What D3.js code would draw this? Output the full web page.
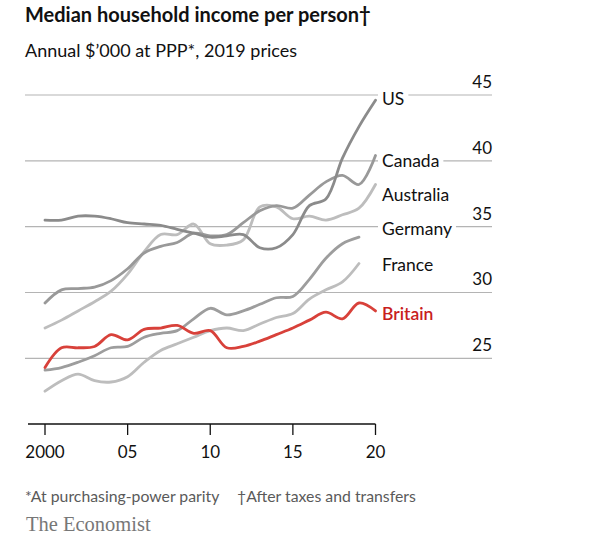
<!DOCTYPE html>
<html>
<head>
<meta charset="utf-8">
<script src="https://cdn.jsdelivr.net/npm/d3@7"></script>
<style>
  body { margin: 0; background: #fff; }
  text { font-family: Lato, "Open Sans", sans-serif; }
</style>
</head>
<body>
<svg id="chart" width="600" height="547"></svg>
<script>
// yearly values, $'000 at PPP
const years = d3.range(2000, 2021);

const us        = [35.5, 35.5, 35.8, 35.8, 35.6, 35.3, 35.2, 35.1, 34.8, 34.5, 34.2, 34.3, 34.4, 33.4, 33.4, 34.4, 36.6, 37.1, 40.2, 42.6, 44.6];
const canada    = [29.2, 30.2, 30.3, 30.4, 30.9, 31.8, 33.0, 33.5, 33.8, 34.5, 34.3, 34.4, 35.3, 36.2, 36.6, 36.4, 37.4, 38.4, 38.9, 38.2, 40.4];
const australia = [27.3, 27.9, 28.6, 29.3, 30.1, 31.4, 33.1, 34.4, 34.4, 35.2, 33.7, 33.6, 34.0, 36.5, 36.5, 35.6, 35.8, 35.5, 35.9, 36.4, 38.2];
const germany   = [24.1, 24.3, 24.7, 25.2, 25.8, 25.9, 26.6, 26.9, 27.1, 28.0, 28.8, 28.3, 28.6, 29.1, 29.6, 29.7, 31.0, 32.6, 33.7, 34.2];
const france    = [22.5, 23.3, 23.8, 23.3, 23.2, 23.6, 24.7, 25.6, 26.1, 26.6, 27.1, 27.3, 27.1, 27.6, 28.1, 28.4, 29.5, 30.2, 30.8, 32.2];
const britain   = [24.3, 25.8, 25.8, 25.9, 26.8, 26.4, 27.2, 27.3, 27.5, 26.9, 27.1, 25.8, 25.9, 26.3, 26.8, 27.3, 27.9, 28.5, 28.0, 29.2, 28.6];

const seriesNames  = ['France', 'Australia', 'Germany', 'Canada', 'US', 'Britain'];
const seriesValues = [france, australia, germany, canada, us, britain];
// where each name sits on the value scale
const labelAt      = [32.1, 37.4, 34.8, 40.0, 44.7, 28.4];

const yTicks = [25, 30, 35, 40, 45];
const xTicks = [2000, 2005, 2010, 2015, 2020];
const xTickLabels = ['2000', '05', '10', '15', '20'];

const colour = {
    US: '#8b8b8b', Canada: '#999999', Germany: '#9d9d9d',
    Australia: '#bdbdbd', France: '#bdbdbd', Britain: '#d8413a'
};

const svg = d3.select('#chart');

const x = d3.scaleLinear().domain([2000, 2020]).range([45, 375.5]);
const y = d3.scaleLinear().domain([25, 45]).range([358.3, 95]);

// titles
svg.append('text').attr('x', 25).attr('y', 22)
    .attr('font-size', 20).attr('font-weight', 700).attr('fill', '#111')
    .text('Median household income per person\u2020');
svg.append('text').attr('x', 25).attr('y', 57)
    .attr('font-size', 18).attr('fill', '#111')
    .text('Annual $\u2019000 at PPP*, 2019 prices');

// gridlines + value labels on the right
const grid = svg.append('g');
grid.selectAll('line').data(yTicks).enter().append('line')
    .attr('x1', 25).attr('x2', 492)
    .attr('y1', d => y(d)).attr('y2', d => y(d))
    .attr('stroke', '#b4b4b4').attr('stroke-width', 1.2);
grid.selectAll('text').data(yTicks).enter().append('text')
    .attr('x', 492).attr('y', d => y(d) - 7)
    .attr('text-anchor', 'end').attr('font-size', 17).attr('fill', '#111')
    .text(d => d);

// x axis
const xAxis = svg.append('g');
xAxis.append('line')
    .attr('x1', 28).attr('x2', x(2020)).attr('y1', 424).attr('y2', 424)
    .attr('stroke', '#111').attr('stroke-width', 1.3);
xAxis.selectAll('line.tick').data(xTicks).enter().append('line')
    .attr('class', 'tick')
    .attr('x1', d => x(d)).attr('x2', d => x(d)).attr('y1', 424).attr('y2', 435)
    .attr('stroke', '#111').attr('stroke-width', 1.3);
xAxis.selectAll('text').data(xTicks).enter().append('text')
    .attr('x', d => x(d)).attr('y', 458).attr('text-anchor', 'middle')
    .attr('font-size', 17).attr('fill', '#111')
    .text((d, i) => xTickLabels[i]);

// lines
const line = d3.line()
    .x((d, i) => x(years[i]))
    .y(d => y(d))
    .curve(d3.curveCatmullRom.alpha(0.5));

svg.append('g').selectAll('path').data(seriesValues).enter().append('path')
    .attr('d', d => line(d))
    .attr('fill', 'none')
    .attr('stroke', (d, i) => colour[seriesNames[i]])
    .attr('stroke-width', 2.8)
    .attr('stroke-linecap', 'round').attr('stroke-linejoin', 'round');

// series names, with a white patch so gridlines break around them
const labels = svg.append('g').selectAll('g').data(seriesNames).enter().append('g');
labels.append('rect').attr('fill', '#fff');
labels.append('text')
    .attr('x', 382).attr('y', (d, i) => y(labelAt[i]))
    .attr('dy', '0.35em').attr('font-size', 17.5)
    .attr('fill', d => d === 'Britain' ? '#c8201b' : '#111')
    .attr('font-weight', d => d === 'Britain' ? 600 : 400)
    .text(d => d);
labels.each(function() {
    const g = d3.select(this);
    const b = g.select('text').node().getBBox();
    g.select('rect').attr('x', b.x - 4).attr('y', b.y)
        .attr('width', b.width + 8).attr('height', b.height);
});

// footnotes
svg.append('text').attr('x', 25).attr('y', 502)
    .attr('font-size', 15.8).attr('fill', '#5a5a5a')
    .text('*At purchasing-power parity');
svg.append('text').attr('x', 237).attr('y', 502)
    .attr('font-size', 15.8).attr('fill', '#5a5a5a')
    .text('\u2020After taxes and transfers');
svg.append('text').attr('x', 26).attr('y', 531)
    .attr('font-size', 20.5).attr('fill', '#777')
    .style('font-family', '"Liberation Serif", "DejaVu Serif", serif')
    .text('The Economist');
</script>
</body>
</html>
